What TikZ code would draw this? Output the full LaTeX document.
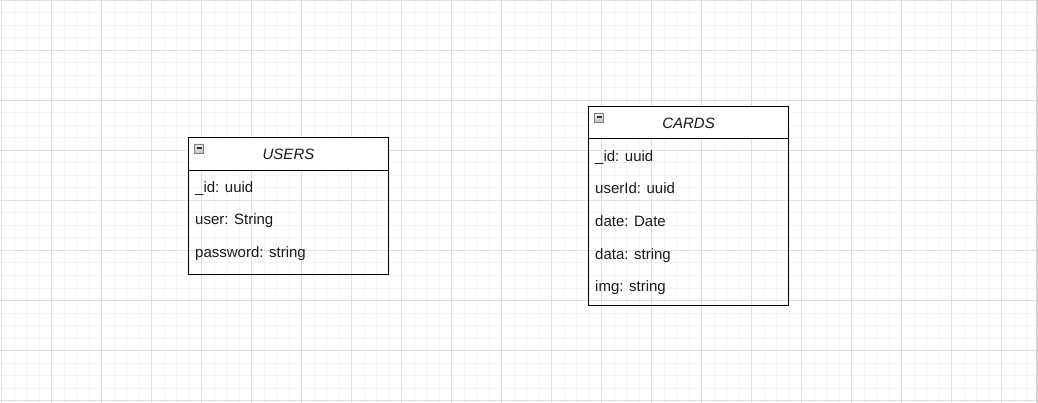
\documentclass[tikz,border=0pt]{standalone}
\usepackage{fontspec}
\setmainfont{Liberation Sans}
\definecolor{gridmajor}{HTML}{DFDFDF}
\definecolor{gridminor}{HTML}{F4F4F4}
\definecolor{edgegray}{HTML}{D4D4D4}
\definecolor{txt}{HTML}{1A1A1A}
\definecolor{iconborder}{HTML}{7F7F7F}
\definecolor{icontop}{HTML}{EEEEEE}
\definecolor{iconbot}{HTML}{C4C4C4}
\definecolor{icondash}{HTML}{333333}
\tikzset{
  tablebox/.style={draw=black, line width=1pt},
  headfill/.style={fill=white},
  sepline/.style={draw=black, line width=1pt},
  title/.style={font=\fontsize{15}{18}\selectfont\itshape, text=txt, inner sep=0pt, anchor=base},
  field/.style={font=\fontsize{15}{18}\selectfont, text=txt, inner sep=0pt, anchor=base west},
  iconsq/.style={draw=iconborder, top color=icontop, bottom color=iconbot, line width=0.9pt},
  icondsh/.style={draw=icondash, line width=2pt},
}
\begin{document}
\begin{tikzpicture}[x=1pt,y=-1pt]
\useasboundingbox (0,0) rectangle (1038,403);
\fill[white] (0,0) rectangle (1038,403);
% minor grid
\foreach \i in {0,...,83} {
  \draw[gridminor, line width=1pt] ({1.5+12.5*\i},0) -- ({1.5+12.5*\i},403);
}
\foreach \j in {0,...,32} {
  \draw[gridminor, line width=1pt] (0,{0.5+12.5*\j}) -- (1038,{0.5+12.5*\j});
}
% major grid
\foreach \i in {0,...,20} {
  \draw[gridmajor, line width=1pt] ({1.5+50*\i},0) -- ({1.5+50*\i},403);
}
\foreach \j in {0,...,8} {
  \draw[gridmajor, line width=1pt] (0,{0.5+50*\j}) -- (1038,{0.5+50*\j});
}
\fill[edgegray] (1036,0) rectangle (1038,403);

% USERS table
\fill[headfill] (188.5,137.5) rectangle (388.5,170.5);
\draw[tablebox] (188.5,137.5) rectangle (388.5,274.5);
\draw[sepline] (188.5,170.5) -- (388.5,170.5);
\draw[iconsq] (194.5,144) rectangle (203.5,153);
\draw[icondsh] (196.5,148.5) -- (201.5,148.5);
\node[title] (usersT) at (288.5,160) {USERS};
\node[field] (u1) at (195,192.5) {\_id: uuid};
\node[field] (u2) at (195,225) {user: String};
\node[field] (u3) at (195,257.5) {password: string};

% CARDS table
\fill[headfill] (588.5,106.5) rectangle (788.5,138.5);
\draw[tablebox] (588.5,106.5) rectangle (788.5,305.5);
\draw[sepline] (588.5,138.5) -- (788.5,138.5);
\draw[iconsq] (594.5,113) rectangle (603.5,122);
\draw[icondsh] (596.5,117.5) -- (601.5,117.5);
\node[title] (cardsT) at (688.5,129) {CARDS};
\node[field] (c1) at (595,161.5) {\_id: uuid};
\node[field] (c2) at (595,194) {userId: uuid};
\node[field] (c3) at (595,226.5) {date: Date};
\node[field] (c4) at (595,259) {data: string};
\node[field] (c5) at (595,291.5) {img: string};
\end{tikzpicture}
\end{document}
